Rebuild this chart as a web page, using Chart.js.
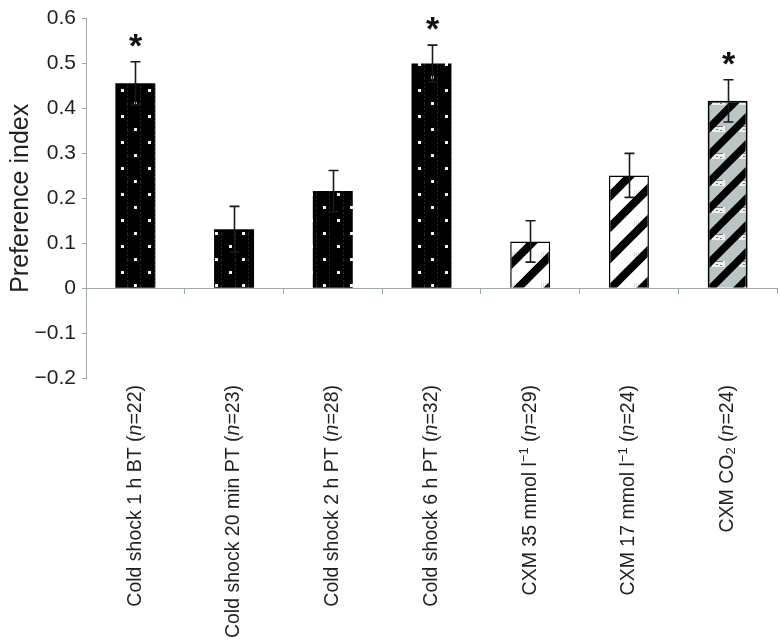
<!DOCTYPE html>
<html><head><meta charset="utf-8">
<script src="https://cdn.jsdelivr.net/npm/chart.js@4/dist/chart.umd.min.js"></script>
<style>html,body{margin:0;padding:0;background:#fff}#wrap{width:780px;height:640px;position:relative}</style>
</head><body><div id="wrap"><canvas id="c" width="780" height="640"></canvas></div>
<script>
// ---- data ----
const categories = [
  'Cold shock 1 h BT (n=22)',
  'Cold shock 20 min PT (n=23)',
  'Cold shock 2 h PT (n=28)',
  'Cold shock 6 h PT (n=32)',
  'CXM 35 mmol l\u207B\u00B9 (n=29)',
  'CXM 17 mmol l\u207B\u00B9 (n=24)',
  'CXM CO\u2082 (n=24)'
];
const values = [0.456, 0.131, 0.216, 0.500, 0.104, 0.251, 0.417];
const errors = [0.048, 0.051, 0.046, 0.041, 0.046, 0.049, 0.047];
const significant = [true, false, false, true, false, false, true];
const yTicks = [-0.2, -0.1, 0, 0.1, 0.2, 0.3, 0.4, 0.5, 0.6];
const yTitle = 'Preference index';

// ---- styles ----
const FONT = '"Liberation Sans", Arial, Helvetica, sans-serif';
const axisColor = '#9eaaaa';
const textColor = '#231f20';
Chart.defaults.font.family = FONT;

function makeDots() {
  const c = document.createElement('canvas'); c.width = 27; c.height = 26;
  const g = c.getContext('2d');
  g.fillStyle = '#000'; g.fillRect(0, 0, 27, 26);
  g.fillStyle = '#262626';
  for (let y = 0; y < 26; y += 4) { g.fillRect(5, y, 1, 2); g.fillRect(19, y, 1, 2); }
  g.fillStyle = '#f2f2f2';
  g.fillRect(13, 11, 3, 3);
  g.fillRect(0, 24, 2, 2); g.fillRect(26, 24, 1, 2); g.fillRect(0, 0, 2, 1); g.fillRect(26, 0, 1, 1);
  return g.createPattern(c, 'repeat');
}
function makeStripes(size, lw, bg, patch) {
  const c = document.createElement('canvas'); c.width = size; c.height = size;
  const g = c.getContext('2d');
  g.fillStyle = bg; g.fillRect(0, 0, size, size);
  if (patch) patch(g, size);
  g.strokeStyle = '#000'; g.lineWidth = lw; g.lineCap = 'square';
  for (let k = -1; k <= 1; k++) {
    g.beginPath(); g.moveTo(k * size - 2, size + 2); g.lineTo(k * size + size + 2, -2); g.stroke();
  }
  return g.createPattern(c, 'repeat');
}
const ctx = document.getElementById('c').getContext('2d');
const dotPat = makeDots();
const whiteStripe = makeStripes(31, 8, '#ffffff', (g, s) => {
  g.fillStyle = '#dcdce4';
  for (let x = 14; x < 24; x += 2) g.fillRect(x, 4, 1, 6);
});
const grayStripe = makeStripes(27, 7.5, '#b9c6c5', (g, s) => {
  g.fillStyle = '#eef0ea'; g.fillRect(10, 18, 13, 6);
  g.fillStyle = '#777'; g.fillRect(12, 18, 9, 1); g.fillRect(14, 21, 2, 1); g.fillRect(18, 22, 2, 1);
});
const fills = [dotPat, dotPat, dotPat, dotPat, whiteStripe, whiteStripe, grayStripe];
const borders = [0, 0, 0, 0, 1.5, 1.5, 2];

// ---- rich label drawing ----
function segments(str) {
  const out = [];
  const re = /(\(n=)|(\u207B\u00B9)|(\u2082)/g;
  let last = 0, m;
  while ((m = re.exec(str))) {
    if (m.index > last) out.push({ t: str.slice(last, m.index), s: 'n' });
    if (m[1]) { out.push({ t: '(', s: 'n' }); out.push({ t: 'n', s: 'i' }); out.push({ t: '=', s: 'n' }); }
    else if (m[2]) out.push({ t: '\u22121', s: 'sup' });
    else if (m[3]) out.push({ t: '2', s: 'sub' });
    last = re.lastIndex;
  }
  if (last < str.length) out.push({ t: str.slice(last), s: 'n' });
  return out;
}
const LBL = 19.5;
function segFont(s) {
  if (s === 'i') return 'italic ' + LBL + 'px ' + FONT;
  if (s === 'sup' || s === 'sub') return Math.round(LBL * 0.66) + 'px ' + FONT;
  return LBL + 'px ' + FONT;
}
const xLabelPlugin = {
  id: 'xlabels',
  afterDraw(chart) {
    const g = chart.ctx, xs = chart.scales.x;
    const top = chart.chartArea.bottom + 7;
    g.save();
    g.fillStyle = textColor; g.textBaseline = 'middle'; g.textAlign = 'left';
    categories.forEach((lab, i) => {
      const segs = segments(lab);
      let w = 0;
      segs.forEach(sg => { g.font = segFont(sg.s); sg.w = g.measureText(sg.t).width; w += sg.w; });
      g.save();
      g.translate(xs.getPixelForValue(i) - 1, top);
      g.rotate(-Math.PI / 2);
      let x = -w;
      segs.forEach(sg => {
        g.font = segFont(sg.s);
        const dy = sg.s === 'sup' ? -6 : sg.s === 'sub' ? 4 : 0;
        g.fillText(sg.t, x, dy + 1);
        x += sg.w;
      });
      g.restore();
    });
    g.restore();
  }
};
const errPlugin = {
  id: 'errbars',
  afterDatasetsDraw(chart) {
    const g = chart.ctx, ys = chart.scales.y;
    const meta = chart.getDatasetMeta(0);
    g.save();
    g.strokeStyle = '#1a1a1a'; g.lineWidth = 1.6;
    meta.data.forEach((bar, i) => {
      const x = Math.round(bar.x) + 0.5;
      const yt = ys.getPixelForValue(values[i] + errors[i]);
      const yb = ys.getPixelForValue(values[i] - errors[i]);
      g.beginPath();
      g.moveTo(x, yt); g.lineTo(x, yb);
      g.moveTo(x - 5, yt); g.lineTo(x + 5, yt);
      g.moveTo(x - 5, yb); g.lineTo(x + 5, yb);
      g.stroke();
      if (significant[i]) {
        g.fillStyle = '#111'; g.font = 'bold 34px ' + FONT;
        g.textAlign = 'center'; g.textBaseline = 'alphabetic';
        g.fillText('*', x, yt - 5);
      }
    });
    g.restore();
  }
};

function fmt(v) {
  const r = Math.round(v * 10) / 10;
  if (r === 0) return '0';
  return (r < 0 ? '\u2212' : '') + Math.abs(r).toFixed(1);
}

new Chart(ctx, {
  type: 'bar',
  data: {
    labels: categories,
    datasets: [{
      data: values,
      backgroundColor: fills,
      borderColor: '#000',
      borderWidth: borders,
      barPercentage: 0.405,
      categoryPercentage: 1
    }]
  },
  options: {
    responsive: false, animation: false, devicePixelRatio: 1,
    layout: { padding: { left: 0, right: 3, top: 0, bottom: 262 } },
    plugins: { legend: { display: false }, tooltip: { enabled: false } },
    scales: {
      x: {
        position: { y: 0 },
        offset: true,
        grid: { display: true, drawOnChartArea: false, offset: true, tickLength: 5, color: axisColor, lineWidth: 1 },
        border: { color: axisColor, width: 1 },
        ticks: { display: false }
      },
      y: {
        min: -0.2, max: 0.6,
        afterFit(s) { s.width = 86; },
        afterBuildTicks(s) { s.ticks = yTicks.map(v => ({ value: v })); },
        ticks: { callback: v => fmt(v), color: textColor, font: { size: 21 }, padding: 6 },
        grid: { drawOnChartArea: false, tickLength: 4, color: axisColor },
        border: { color: axisColor, width: 1 },
        title: { display: true, text: yTitle, color: textColor, font: { size: 25 }, padding: { top: 6, bottom: 0 } }
      }
    }
  },
  plugins: [xLabelPlugin, errPlugin]
});
</script>
</body></html>
